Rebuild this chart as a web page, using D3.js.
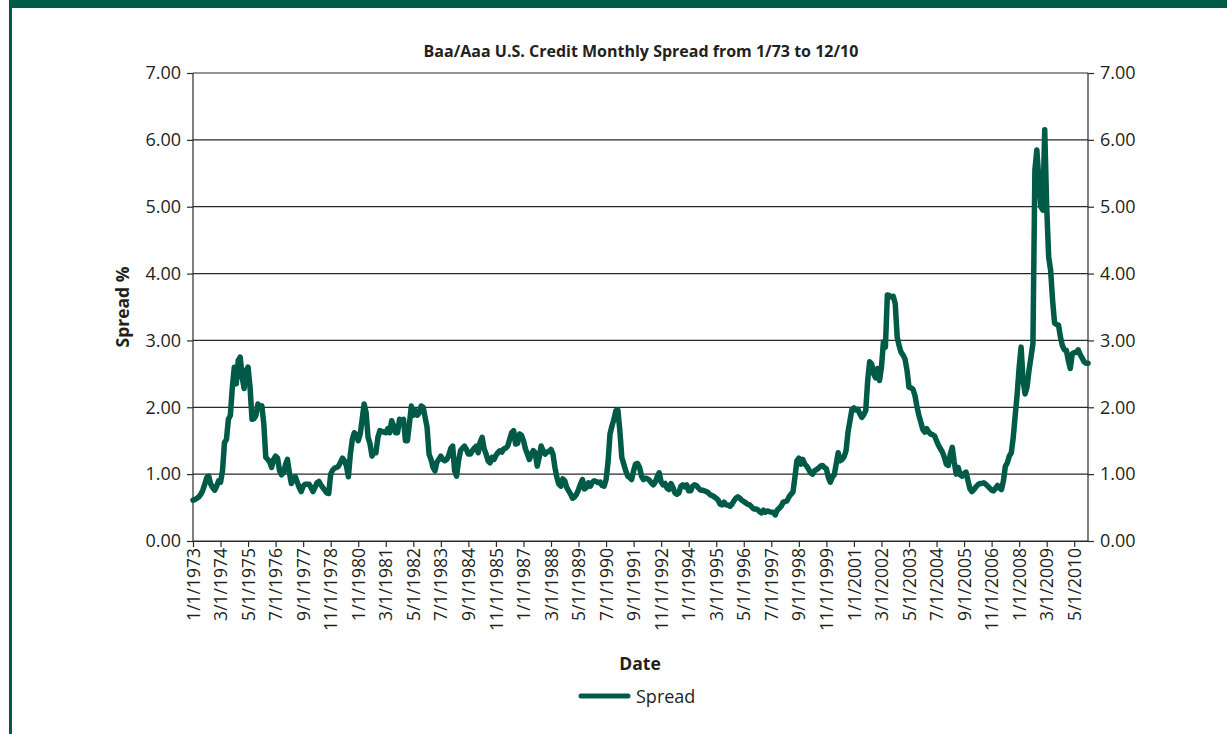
<!DOCTYPE html>
<html><head><meta charset="utf-8">
<script src="https://cdn.jsdelivr.net/npm/d3@7"></script>
<style>body{margin:0;background:#fff;} text{font-family:"Open Sans",sans-serif;fill:#231f20;}</style>
</head><body>
<svg id="c" width="1227" height="734"></svg>
<script>
// Monthly Baa/Aaa spread, Jan 1973 .. Dec 2010 (one row per year)
const spread = [
0.61,0.62,0.64,0.66,0.70,0.76,0.85,0.95,0.97,0.85,0.80,0.76,
0.82,0.90,0.88,1.05,1.47,1.52,1.82,1.88,2.30,2.60,2.35,2.70,
2.75,2.45,2.28,2.55,2.60,2.30,1.82,1.83,1.88,2.05,2.00,2.02,
1.75,1.25,1.22,1.18,1.10,1.22,1.27,1.24,1.05,0.99,1.02,1.14,
1.22,1.02,0.86,0.92,0.96,0.88,0.80,0.74,0.82,0.85,0.85,0.85,
0.80,0.74,0.80,0.87,0.89,0.84,0.80,0.76,0.72,0.71,1.00,1.06,
1.09,1.10,1.12,1.18,1.24,1.20,1.12,0.96,1.30,1.52,1.62,1.58,
1.50,1.60,1.82,2.05,1.92,1.55,1.45,1.27,1.33,1.32,1.55,1.65,
1.64,1.63,1.62,1.68,1.62,1.80,1.72,1.62,1.62,1.82,1.80,1.82,
1.50,1.50,1.75,2.02,1.88,1.95,1.88,1.92,2.02,2.00,1.85,1.70,
1.30,1.22,1.10,1.05,1.18,1.22,1.27,1.22,1.20,1.22,1.28,1.38,
1.42,1.05,0.97,1.20,1.35,1.39,1.42,1.37,1.30,1.30,1.35,1.39,
1.42,1.32,1.48,1.55,1.38,1.30,1.20,1.17,1.25,1.22,1.28,1.32,
1.35,1.33,1.38,1.39,1.42,1.52,1.62,1.65,1.45,1.46,1.60,1.58,
1.50,1.38,1.30,1.22,1.30,1.35,1.32,1.12,1.25,1.42,1.35,1.30,
1.33,1.34,1.37,1.30,1.10,0.95,0.85,0.82,0.93,0.90,0.80,0.75,
0.70,0.64,0.66,0.70,0.77,0.85,0.92,0.78,0.80,0.87,0.82,0.88,
0.90,0.89,0.87,0.88,0.83,0.82,0.92,1.18,1.60,1.72,1.82,1.95,
1.96,1.65,1.25,1.15,1.05,0.97,0.95,0.92,1.05,1.15,1.16,1.10,
0.97,0.92,0.94,0.93,0.91,0.87,0.84,0.88,0.96,1.02,0.88,0.84,
0.86,0.79,0.77,0.86,0.80,0.72,0.70,0.72,0.82,0.84,0.81,0.84,
0.75,0.75,0.82,0.84,0.83,0.79,0.76,0.76,0.75,0.74,0.72,0.69,
0.68,0.66,0.64,0.61,0.55,0.54,0.58,0.54,0.54,0.52,0.55,0.60,
0.64,0.66,0.64,0.61,0.59,0.57,0.55,0.54,0.51,0.48,0.48,0.47,
0.44,0.42,0.46,0.43,0.45,0.44,0.43,0.43,0.39,0.46,0.49,0.52,
0.58,0.59,0.60,0.66,0.70,0.73,0.95,1.20,1.24,1.15,1.22,1.15,
1.12,1.07,1.02,1.00,1.05,1.07,1.09,1.12,1.13,1.10,1.08,0.95,
0.88,0.95,0.99,1.15,1.32,1.20,1.22,1.26,1.35,1.63,1.80,1.97,
1.99,1.96,1.97,1.90,1.85,1.89,1.95,2.40,2.68,2.65,2.50,2.44,
2.58,2.40,2.60,2.98,2.90,3.68,3.67,3.65,3.66,3.55,3.05,2.92,
2.82,2.78,2.72,2.55,2.30,2.29,2.27,2.18,2.02,1.88,1.78,1.67,
1.63,1.68,1.63,1.60,1.59,1.57,1.50,1.43,1.38,1.33,1.25,1.15,
1.13,1.30,1.40,1.18,1.00,1.10,0.99,0.97,1.01,1.03,0.90,0.78,
0.74,0.77,0.81,0.84,0.86,0.86,0.87,0.85,0.82,0.79,0.76,0.75,
0.79,0.83,0.79,0.77,0.90,1.12,1.17,1.27,1.32,1.55,1.88,2.20,
2.60,2.90,2.40,2.20,2.30,2.55,2.75,2.95,5.55,5.85,5.40,5.00,
4.95,6.15,5.00,4.25,4.05,3.60,3.26,3.24,3.23,3.05,2.92,2.86,
2.85,2.70,2.58,2.80,2.82,2.82,2.86,2.79,2.74,2.68,2.66,2.66
];
const startYear = 1973, startMonth = 1;
const categories = spread.map((_, i) => {
  const m = (startMonth - 1 + i) % 12 + 1, y = startYear + Math.floor((startMonth - 1 + i) / 12);
  return m + "/1/" + y;
});
const tickLabels = ["1/1/1973","3/1/1974","5/1/1975","7/1/1976","9/1/1977","11/1/1978","1/1/1980","3/1/1981","5/1/1982","7/1/1983","9/1/1984","11/1/1985","1/1/1987","3/1/1988","5/1/1989","7/1/1990","9/1/1991","11/1/1992","1/1/1994","3/1/1995","5/1/1996","7/1/1997","9/1/1998","11/1/1999","1/1/2001","3/1/2002","5/1/2003","7/1/2004","9/1/2005","11/1/2006","1/1/2008","3/1/2009","5/1/2010"];
const yTicks = [0,1,2,3,4,5,6,7];
const title = "Baa/Aaa U.S. Credit Monthly Spread from 1/73 to 12/10";
const seriesName = "Spread";

const green = "#005a48";
const ink = "#2a2a2a";
const svg = d3.select("#c");
// frame
svg.append("rect").attr("x",10).attr("y",0).attr("width",1217).attr("height",8).attr("fill",green);
svg.append("rect").attr("x",9).attr("y",0).attr("width",3).attr("height",734).attr("fill",green);

const L=193, R=1088, T=73, B=541;
const x = d3.scalePoint().domain(categories).range([L,R]);
const y = d3.scaleLinear().domain([0,7]).range([B,T]);

// gridlines
svg.append("g").selectAll("line").data(yTicks).join("line")
  .attr("x1",L).attr("x2",R).attr("y1",d=>y(d)).attr("y2",d=>y(d))
  .attr("stroke",ink).attr("stroke-width",1.2);

const yl = svg.append("g").attr("transform",`translate(${L},0)`)
  .call(d3.axisLeft(y).tickValues(yTicks).tickFormat(d3.format(".2f")).tickSize(6).tickPadding(6));
const yr = svg.append("g").attr("transform",`translate(${R},0)`)
  .call(d3.axisRight(y).tickValues(yTicks).tickFormat(d3.format(".2f")).tickSize(6).tickPadding(6));
const xa = svg.append("g").attr("transform",`translate(0,${B})`)
  .call(d3.axisBottom(x).tickValues(tickLabels).tickSize(6).tickSizeOuter(0));
[yl,yr,xa].forEach(g=>{
  g.selectAll("path,line").attr("stroke",ink).attr("stroke-width",1.2);
  g.selectAll("text").style("font-family","'Open Sans',sans-serif").style("font-size","18px").attr("fill","#231f20");
});
xa.selectAll("text").style("font-size","17.5px");
yl.select(".domain").remove(); yr.select(".domain").remove();
svg.append("line").attr("x1",L).attr("x2",L).attr("y1",T).attr("y2",B).attr("stroke",ink).attr("stroke-width",1.2);
svg.append("line").attr("x1",R).attr("x2",R).attr("y1",T).attr("y2",B).attr("stroke",ink).attr("stroke-width",1.2);
xa.selectAll("text").attr("transform","rotate(-90)").attr("text-anchor","end")
  .attr("x",-7).attr("y",0).attr("dy","0.35em");

// line
svg.append("path").datum(spread)
  .attr("d", d3.line().x((d,i)=>x(categories[i])).y(d=>y(d)))
  .attr("fill","none").attr("stroke",green).attr("stroke-width",5.5).attr("stroke-linejoin","round").attr("stroke-linecap","round");

// titles
svg.append("text").attr("x",641).attr("y",57).attr("text-anchor","middle")
  .style("font-weight","bold").style("font-size","16px").text(title);
svg.append("text").attr("transform",`translate(129,307) rotate(-90)`).attr("text-anchor","middle")
  .style("font-weight","bold").style("font-size","17.5px").text("Spread %");
svg.append("text").attr("x",640).attr("y",670).attr("text-anchor","middle")
  .style("font-weight","bold").style("font-size","17.5px").text("Date");
// legend
svg.append("line").attr("x1",581).attr("x2",628).attr("y1",696).attr("y2",696)
  .attr("stroke",green).attr("stroke-width",5).attr("stroke-linecap","round");
svg.append("text").attr("x",636).attr("y",703).style("font-size","18px").text(seriesName);
</script>
</body></html>
